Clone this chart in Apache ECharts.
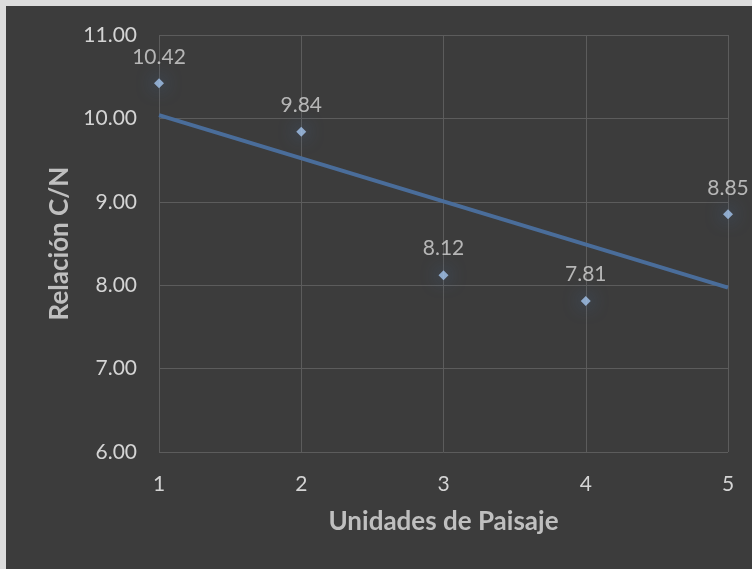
<!DOCTYPE html>
<html><head><meta charset="utf-8">
<script src="https://cdn.jsdelivr.net/npm/echarts@6/dist/echarts.min.js"></script>
<style>
html,body{margin:0;padding:0;background:#dcdcdc;width:752px;height:569px;overflow:hidden;}
#c{position:absolute;left:6px;top:6px;width:746px;height:563px;}
</style></head>
<body><div id="c"></div>
<script>
const units = [1, 2, 3, 4, 5];
const ratioCN = [10.42, 9.84, 8.12, 7.81, 8.85];
const trendX = [1, 5];
const trendY = [10.04, 7.97];
const yTicks = [6, 7, 8, 9, 10, 11];

const chart = echarts.init(document.getElementById('c'));
const font = 'Lato, "Open Sans", sans-serif';
chart.setOption({
  backgroundColor: '#3c3c3c',
  animation: false,
  grid: {left: 153, right: 24, top: 29, bottom: 117},
  xAxis: {
    type: 'value', min: 1, max: 5, interval: 1,
    name: 'Unidades de Paisaje', nameLocation: 'middle', nameGap: 57,
    nameTextStyle: {color: '#bfbfbf', fontSize: 26, fontWeight: 'bold', fontFamily: font},
    axisLine: {show: false}, axisTick: {show: false},
    axisLabel: {color: '#d4d4d4', fontSize: 21, fontFamily: font, margin: 22},
    splitLine: {show: true, lineStyle: {color: '#5c5c5c', width: 1}}
  },
  yAxis: {
    type: 'value', min: yTicks[0], max: yTicks[yTicks.length-1], interval: 1,
    name: 'Relación C/N', nameLocation: 'middle', nameGap: 84,
    nameTextStyle: {color: '#bfbfbf', fontSize: 26, fontWeight: 'bold', fontFamily: font},
    axisLine: {show: false}, axisTick: {show: false},
    axisLabel: {color: '#d4d4d4', fontSize: 21, fontFamily: font, margin: 22,
      formatter: v => v.toFixed(2)},
    splitLine: {show: true, lineStyle: {color: '#5c5c5c', width: 1}}
  },
  series: [
    {
      type: 'line', data: trendX.map((x, i) => [x, trendY[i]]),
      symbol: 'none', lineStyle: {color: '#4a6d9a', width: 4}, z: 2, silent: true
    },
    {
      type: 'scatter', data: units.map((x, i) => [x, ratioCN[i]]),
      symbol: 'diamond', symbolSize: 10,
      itemStyle: {color: '#a3c4ee', shadowBlur: 18, shadowColor: 'rgba(70,125,200,1)'},
      label: {show: true, position: 'top', distance: 11, color: '#d4d4d4', fontSize: 21,
        fontFamily: font, formatter: p => p.value[1].toFixed(2),
        textShadowBlur: 0, shadowBlur: 0},
      z: 3
    }
  ]
});
</script></body></html>
